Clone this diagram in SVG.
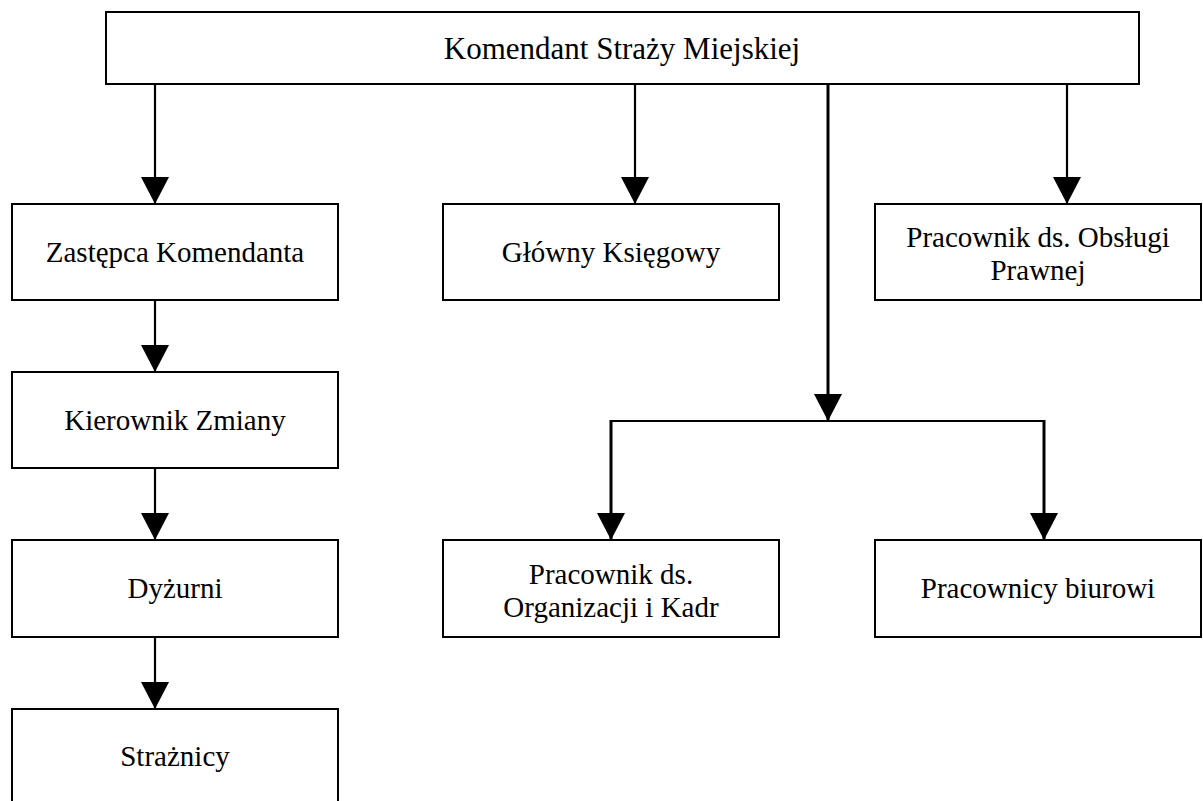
<svg xmlns="http://www.w3.org/2000/svg" width="1203" height="801" viewBox="0 0 1203 801">
  <style>
    .box { fill: #ffffff; stroke: #000000; stroke-width: 2; }
    .lbl { font-family: "Liberation Serif", "Times New Roman", serif; font-size: 29px; fill: #000000; text-anchor: middle; }
    .top { font-size: 31px; }
    .con { fill: none; stroke: #000000; stroke-width: 2.2; }
    .thick { stroke-width: 3; }
  </style>
  <defs>
    <marker id="arr" markerUnits="userSpaceOnUse" markerWidth="28" markerHeight="28" refX="27" refY="14" orient="auto" viewBox="0 0 28 28">
      <path d="M0,0 L27,14 L0,28 z" fill="#000000"/>
    </marker>
  </defs>
  <rect width="1203" height="801" fill="#ffffff"/>

  <g id="connectors">
    <line class="con" x1="155" y1="84" x2="155" y2="204" marker-end="url(#arr)"/>
    <line class="con" x1="635" y1="84" x2="635" y2="204" marker-end="url(#arr)"/>
    <line class="con" x1="1067" y1="84" x2="1067" y2="204" marker-end="url(#arr)"/>
    <line class="con thick" x1="828" y1="84" x2="828" y2="421" marker-end="url(#arr)"/>
    <line class="con" x1="611" y1="421" x2="1045" y2="421"/>
    <line class="con thick" x1="611" y1="420" x2="611" y2="540" marker-end="url(#arr)"/>
    <line class="con thick" x1="1044" y1="420" x2="1044" y2="540" marker-end="url(#arr)"/>
    <line class="con" x1="155" y1="300" x2="155" y2="372" marker-end="url(#arr)"/>
    <line class="con" x1="155" y1="468" x2="155" y2="540" marker-end="url(#arr)"/>
    <line class="con" x1="155" y1="637" x2="155" y2="709" marker-end="url(#arr)"/>
  </g>

  <g id="komendant">
    <rect class="box" x="106" y="12" width="1033" height="72"/>
    <text class="lbl top" x="622" y="59">Komendant Straży Miejskiej</text>
  </g>
  <g id="zastepca">
    <rect class="box" x="12" y="204" width="326" height="96"/>
    <text class="lbl" x="175" y="262">Zastępca Komendanta</text>
  </g>
  <g id="kierownik">
    <rect class="box" x="12" y="372" width="326" height="96"/>
    <text class="lbl" x="175" y="430">Kierownik Zmiany</text>
  </g>
  <g id="dyzurni">
    <rect class="box" x="12" y="540" width="326" height="97"/>
    <text class="lbl" x="175" y="598">Dyżurni</text>
  </g>
  <g id="straznicy">
    <rect class="box" x="12" y="709" width="326" height="110"/>
    <text class="lbl" x="175" y="766">Strażnicy</text>
  </g>
  <g id="ksiegowy">
    <rect class="box" x="443" y="204" width="336" height="96"/>
    <text class="lbl" x="611" y="262">Główny Księgowy</text>
  </g>
  <g id="prawny">
    <rect class="box" x="875" y="204" width="326" height="96"/>
    <text class="lbl" x="1038" y="247">Pracownik ds. Obsługi</text>
    <text class="lbl" x="1038" y="280">Prawnej</text>
  </g>
  <g id="kadry">
    <rect class="box" x="443" y="540" width="336" height="97"/>
    <text class="lbl" x="611" y="584">Pracownik ds.</text>
    <text class="lbl" x="611" y="617">Organizacji i Kadr</text>
  </g>
  <g id="biurowi">
    <rect class="box" x="875" y="540" width="326" height="97"/>
    <text class="lbl" x="1038" y="598">Pracownicy biurowi</text>
  </g>
</svg>
